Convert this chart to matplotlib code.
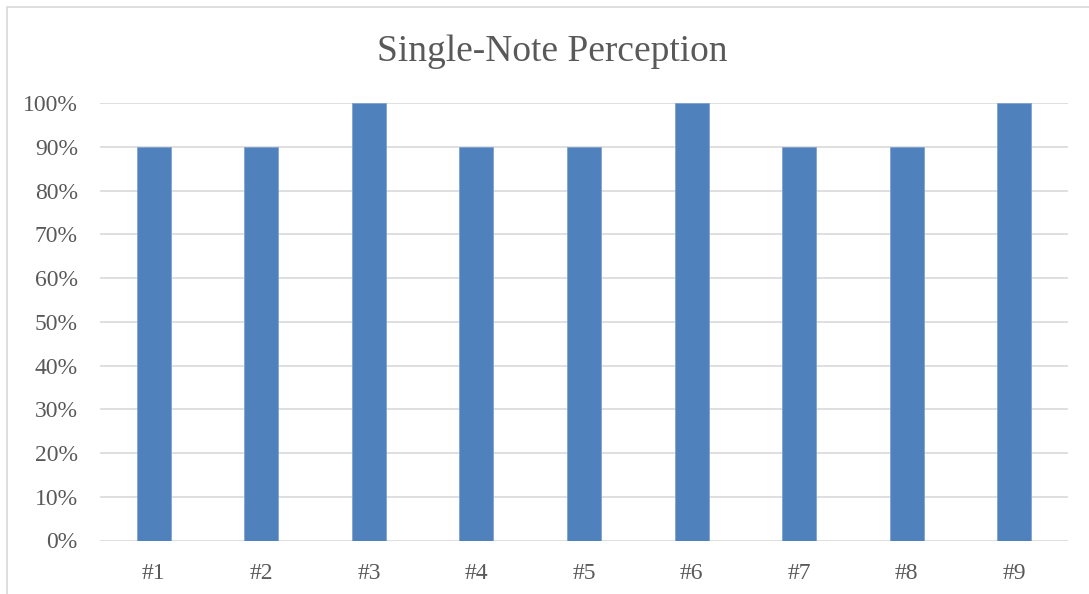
import matplotlib.pyplot as plt
import matplotlib.patches as mpatches
from matplotlib.ticker import PercentFormatter

# data
participants = ["#1", "#2", "#3", "#4", "#5", "#6", "#7", "#8", "#9"]
accuracy = [90, 90, 100, 90, 90, 100, 90, 90, 100]
yticks = list(range(0, 101, 10))

BAR = "#4F81BD"
GRID = "#D9D9D9"
TEXT = "#595959"

plt.rcParams["font.family"] = ["Liberation Serif", "DejaVu Serif"]

W, H = 1089, 594
fig = plt.figure(figsize=(W / 100, H / 100), dpi=100)

# chart-area border (only top/left visible in the reference)
fig.patches.append(mpatches.Rectangle((7 / W, -0.1), 1.2, 1 - 7 / H + 0.1,
                                      transform=fig.transFigure, fill=False,
                                      edgecolor=GRID, linewidth=1.2))

ax = fig.add_axes([100 / W, (H - 540.5) / H, 968 / W, (540.5 - 103.3) / H])
x = range(len(participants))
ax.bar(x, accuracy, width=0.316, color=BAR, edgecolor="#7FA3D0", linewidth=0.6, zorder=3)
ax.set_xlim(-0.5, len(participants) - 0.5)
ax.set_ylim(0, 100)
ax.set_yticks(yticks)
ax.yaxis.set_major_formatter(PercentFormatter(decimals=0))
ax.set_xticks(list(x))
ax.set_xticklabels(participants)
ax.grid(True, axis="y", color=GRID, linewidth=1.2, zorder=0)
for s in ax.spines.values():
    s.set_visible(False)
ax.tick_params(axis="both", length=0, labelsize=17, colors=TEXT)
ax.tick_params(axis="y", pad=16)
ax.tick_params(axis="x", pad=16)

fig.text(552 / W, 1 - 52 / H, "Single-Note Perception", ha="center", va="center",
         fontsize=27, color=TEXT)

fig.savefig("out.png", dpi=100)
